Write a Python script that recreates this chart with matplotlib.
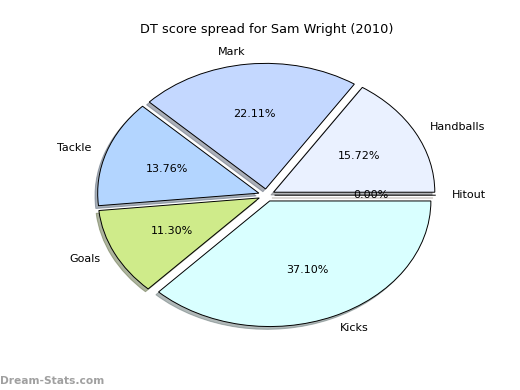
import matplotlib
matplotlib.use('Agg')
import matplotlib.pyplot as plt

# score categories and their share of DT points
labels = ['Handballs', 'Mark', 'Tackle', 'Goals', 'Kicks', 'Hitout']
shares = [15.72, 22.11, 13.76, 11.30, 37.10, 0.0]
colors = ['#eaf1ff', '#c4d8ff', '#b3d5ff', '#cfeb8a', '#d9ffff', '#ffe4c4']
explode = [0.05] * len(labels)

fig = plt.figure(figsize=(5.2, 3.9), dpi=100)
ax = fig.add_axes([0.125, 0.097, 0.775, 0.805])
wedges, texts, autotexts = ax.pie(shares, labels=labels, colors=colors, explode=explode,
                                  autopct='%1.2f%%',
                                  shadow={'ox': -0.012, 'oy': -0.016, 'shade': 0.55},
                                  wedgeprops={'edgecolor': 'black', 'linewidth': 0.7},
                                  textprops={'fontsize': 8})
ax.set_aspect('auto')
ax.set_title('DT score spread for Sam Wright (2010)', fontsize=9.3, pad=4)
fig.text(0.0, 0.015, 'Dream-Stats.com', fontsize=7.7, fontweight='bold', color='#a0a0a0')

fig.savefig('out.png', dpi=100)
